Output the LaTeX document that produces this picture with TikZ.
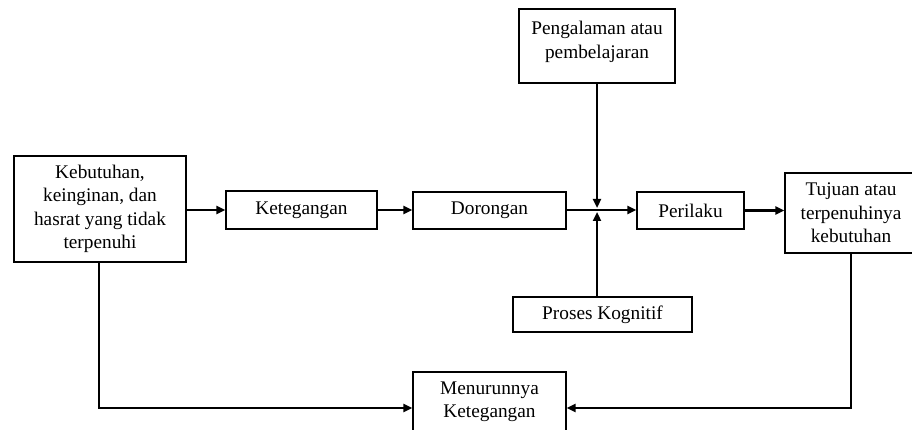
\documentclass[tikz,border=0pt]{standalone}
\usepackage{fontspec}
\setmainfont{Liberation Serif}
\usetikzlibrary{arrows.meta,calc}
\tikzset{
  box/.style={draw=black, line width=1.2pt, rectangle, inner sep=0pt, align=center},
  lbl/.style={inner sep=0pt, align=center},
  conn/.style={line width=2.2pt, -{Triangle[length=9pt,width=8pt]}}
}
\begin{document}
\begin{tikzpicture}[x=1pt,y=-1pt,font=\fontsize{19.3}{23.5}\selectfont]
\useasboundingbox (0,0) rectangle (912,430);
% boxes
\node[box, minimum width=172pt, minimum height=106pt] (keb) at (100,209) {Kebutuhan,\\keinginan, dan\\hasrat yang tidak\\terpenuhi};
\node[box, minimum width=151pt, minimum height=38pt] (ket) at (301.5,210) {Ketegangan};
\node[box, minimum width=153pt, minimum height=37pt] (dor) at (489.5,210.5) {Dorongan};
\node[box, minimum width=107pt, minimum height=37pt] (per) at (690.5,210.5) {Perilaku};
\node[box, minimum width=132pt, minimum height=80pt] (tuj) at (851,213) {Tujuan atau\\terpenuhinya\\kebutuhan};
\node[box, minimum width=156pt, minimum height=74pt] (peng) at (597,46) {};
\node[lbl, anchor=north] (pengtxt) at ([yshift=-13pt]peng.north) {Pengalaman atau\\pembelajaran};
\node[box, minimum width=179pt, minimum height=35pt] (pros) at (602.5,314.5) {Proses Kognitif};
\node[box, minimum width=153pt, minimum height=72pt] (men) at (489.5,408) {};
\node[lbl, anchor=north] (mentxt) at ([yshift=-10pt]men.north) {Menurunnya\\Ketegangan};
% junction
\coordinate (jn) at (597,210);
% connectors
\draw[conn] (keb.east |- ket.west) -- (ket.west);
\draw[conn] (ket.east) -- (ket.east -| dor.west);
\draw[conn] (dor.east |- jn) -- (jn -| per.west);
\draw[conn] (per.east) -- (per.east -| tuj.west);
\draw[conn] (peng.south -| jn) -- ([yshift=2pt]jn);
\draw[conn] (pros.north -| jn) -- ([yshift=-2pt]jn);
\draw[conn] (keb.south -| 99,0) |- (men.west);
\draw[conn] (tuj.south) |- (men.east);
\end{tikzpicture}
\end{document}
